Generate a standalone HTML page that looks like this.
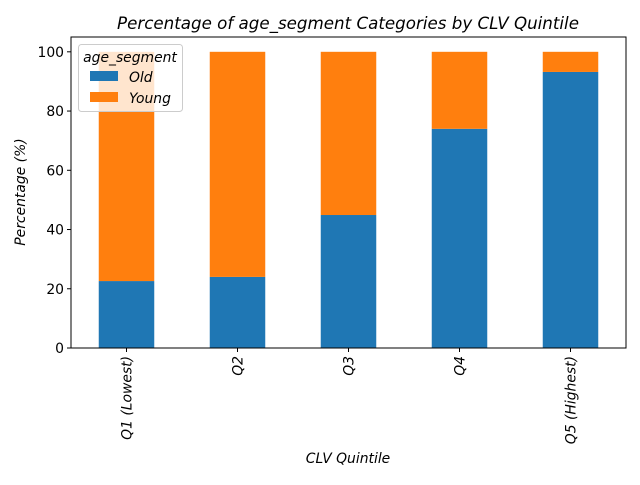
<!DOCTYPE html>
<html><head><meta charset="utf-8"><style>
body{margin:0;background:#fff;}
svg text{font-family:"DejaVu Sans","Liberation Sans",sans-serif;}
</style></head><body>
<svg id="chart" width="640" height="480" xmlns="http://www.w3.org/2000/svg">
<text x="348" y="29" font-size="16.7" font-style="italic" text-anchor="middle">Percentage of age_segment Categories by CLV Quintile</text>
<g id="plot"></g>
<text x="348" y="463" font-size="13.9" font-style="italic" text-anchor="middle">CLV Quintile</text>
<text transform="translate(25,192) rotate(-90)" font-size="13.9" font-style="italic" text-anchor="middle">Percentage (%)</text>
</svg>
<script>
const categories = ["Q1 (Lowest)","Q2","Q3","Q4","Q5 (Highest)"];
const oldValues = [22.6, 24.0, 44.9, 74.0, 93.2];
const youngValues = [77.4, 76.0, 55.1, 26.0, 6.8];
const yTicks = [0,20,40,60,80,100];

const L=71,R=626,T=37,B=348;
const yMax=105;
const y=v=>B-(v/yMax)*(B-T);
const step=(R-L)/categories.length;
const xc=i=>L+step*(i+0.5);
const bw=step*0.5;
const ns="http://www.w3.org/2000/svg";
const g=document.getElementById('plot');
function mk(t,a){const e=document.createElementNS(ns,t);for(const k in a)e.setAttribute(k,a[k]);return e;}

categories.forEach((c,i)=>{
  const o=mk('rect',{x:xc(i)-bw/2,y:y(oldValues[i]),width:bw,height:B-y(oldValues[i]),fill:'#1f77b4'});
  
  
  g.appendChild(o);
  const yt=mk('rect',{x:xc(i)-bw/2,y:y(oldValues[i]+youngValues[i]),width:bw,height:y(oldValues[i])-y(oldValues[i]+youngValues[i]),fill:'#ff7f0e'});
  
  
  g.appendChild(yt);
  const tk=mk('line',{x1:xc(i),x2:xc(i),y1:B,y2:B+4,stroke:'#000'});
  
  
  g.appendChild(tk);
  const lb=mk('text',{transform:`translate(${xc(i)+5},${B+8}) rotate(-90)`,'font-size':13.9,'font-style':'italic','text-anchor':'end'});
  lb.textContent=c;
  
  
  g.appendChild(lb);
});
yTicks.forEach(v=>{
  const tk=mk('line',{x1:L-4,x2:L,y1:y(v),y2:y(v),stroke:'#000'});
  
  
  g.appendChild(tk);
  const lb=mk('text',{x:L-7,y:y(v)+5,'font-size':13.9,'text-anchor':'end'});
  lb.textContent=v;
  
  
  g.appendChild(lb);
});
const fr=mk('rect',{x:L,y:T,width:R-L,height:B-T,fill:'none',stroke:'#000','stroke-width':1});


g.appendChild(fr);

const lg=mk('g',{});


lg.appendChild(mk('rect',{x:78.5,y:44.5,width:104,height:67,rx:3,fill:'#fff','fill-opacity':0.8,stroke:'#ccc'}));
const lt=mk('text',{x:130,y:62,'font-size':13.9,'font-style':'italic','text-anchor':'middle'});lt.textContent='age_segment';lg.appendChild(lt);
[['Old','#1f77b4',82],['Young','#ff7f0e',103]].forEach(([n,c,yy])=>{
  const e=mk('g',{});
  
  
  e.appendChild(mk('rect',{x:90,y:yy-11,width:28,height:10,fill:c}));
  const t=mk('text',{x:129,y:yy,'font-size':13.9,'font-style':'italic'});t.textContent=n;e.appendChild(t);
  lg.appendChild(e);
});
g.appendChild(lg);
</script>
</body></html>
